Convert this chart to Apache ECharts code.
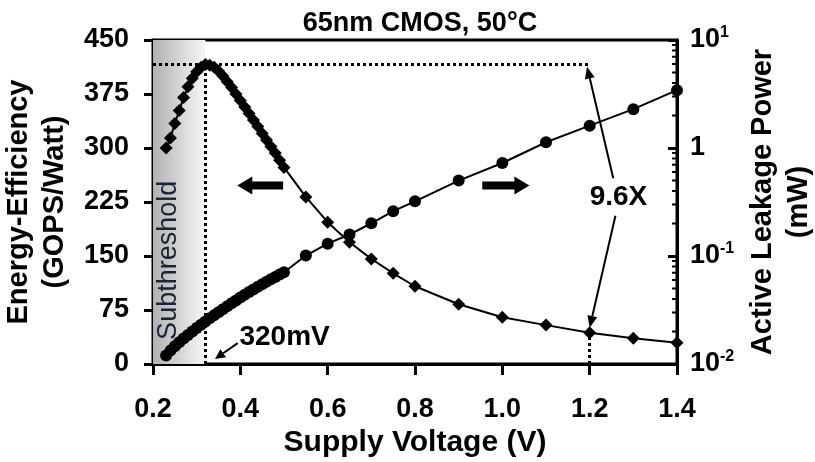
<!DOCTYPE html>
<html>
<head>
<meta charset="utf-8">
<script src="https://cdn.jsdelivr.net/npm/echarts@6/dist/echarts.min.js"></script>
<style>
  html, body { margin: 0; padding: 0; background: #fff; }
  #chart { width: 815px; height: 462px; }
</style>
</head>
<body>
<div id="chart"></div>
<script>
// Supply voltage sweep (V)
const voltage = [
  0.23, 0.24, 0.25, 0.26, 0.27, 0.28, 0.29, 0.30, 0.31, 0.32,
  0.33, 0.34, 0.35, 0.36, 0.37, 0.38, 0.39, 0.40, 0.41, 0.42,
  0.43, 0.44, 0.45, 0.46, 0.47, 0.48, 0.49, 0.50,
  0.55, 0.60, 0.65, 0.70, 0.75, 0.80, 0.90, 1.00, 1.10, 1.20, 1.30, 1.40
];
// Energy-efficiency (GOPS/Watt), left axis
const efficiency = [
  300, 314, 334, 352, 370, 385, 397, 406, 412, 416,
  415, 412, 407, 400, 392, 384, 375, 366, 357, 348,
  339, 330, 320, 311, 302, 293, 283, 273,
  232, 197, 169, 146, 126, 108, 83, 65, 54, 43.3, 35.7, 29.6
];
// Active leakage power (mW), right log axis
const leakage = [
  0.0120, 0.0133, 0.0146, 0.0159, 0.0172, 0.0186, 0.0200, 0.0215, 0.0231, 0.0248,
  0.0265, 0.0283, 0.0302, 0.0322, 0.0343, 0.0365, 0.0388, 0.0412, 0.0437, 0.0463,
  0.0490, 0.0518, 0.0547, 0.0577, 0.0608, 0.0640, 0.0673, 0.0707,
  0.101, 0.130, 0.158, 0.201, 0.260, 0.321, 0.499, 0.726, 1.13, 1.61, 2.29, 3.43
];
// Axis ticks
const xTicks = [0.2, 0.4, 0.6, 0.8, 1.0, 1.2, 1.4];
const leftTicks = [0, 75, 150, 225, 300, 375, 450];
const rightTicks = [0.01, 0.1, 1, 10];
const rightMinorTicks = [
  0.02, 0.03, 0.04, 0.05, 0.06, 0.07, 0.08, 0.09,
  0.2, 0.3, 0.4, 0.5, 0.6, 0.7, 0.8, 0.9,
  2, 3, 4, 5, 6, 7, 8, 9
];
// Annotated operating points
const peakVoltage = 0.32;
const compareVoltage = 1.2;

const FONT = '"Liberation Sans", Arial, sans-serif';
const xMin = xTicks[0], xMax = xTicks[xTicks.length - 1];
const peakEff = Math.max.apply(null, efficiency);
const effAtCompare = efficiency[voltage.indexOf(compareVoltage)];

const effData = voltage.map((v, i) => [v, efficiency[i]]);
const leakData = voltage.map((v, i) => [v, leakage[i]]);

function supText(v) {
  if (v === 1) return '{b|1}';
  const e = Math.round(Math.log10(v));
  return '{b|10}{s|' + e + '}';
}

const chart = echarts.init(document.getElementById('chart'), null, { renderer: 'canvas' });

const option = {
  animation: false,
  backgroundColor: '#fff',
  title: {
    text: '65nm CMOS, 50°C',
    left: 415, top: 5, textAlign: 'center',
    textStyle: { fontFamily: FONT, fontWeight: 'bold', fontSize: 27, color: '#000' }
  },
  grid: {
    left: 153, right: 138, top: 40, bottom: 98,
    containLabel: false, outerBoundsMode: 'none',
    show: true, borderColor: '#000', borderWidth: 3, backgroundColor: 'transparent'
  },
  xAxis: {
    type: 'value', min: xMin, max: xMax, interval: 0.2,
    name: 'Supply Voltage (V)', nameLocation: 'middle', nameGap: 62,
    nameTextStyle: { fontFamily: FONT, fontWeight: 'bold', fontSize: 30, color: '#000' },
    axisLine: { show: true, lineStyle: { color: '#000', width: 3 } },
    axisTick: { show: true, inside: false, length: 11, lineStyle: { color: '#000', width: 3 } },
    axisLabel: {
      margin: 32, fontFamily: FONT, fontWeight: 'bold', fontSize: 27, color: '#000',
      formatter: v => v.toFixed(1)
    },
    splitLine: { show: false }
  },
  yAxis: [
    {
      type: 'value', min: 0, max: 450, interval: 75, position: 'left',
      name: 'Energy-Efficiency\n(GOPS/Watt)', nameLocation: 'middle', nameGap: 75, nameRotate: 90,
      nameTextStyle: { fontFamily: FONT, fontWeight: 'bold', fontSize: 29, color: '#000', lineHeight: 36 },
      axisLine: { show: true, lineStyle: { color: '#000', width: 3 } },
      axisTick: { show: true, inside: false, length: 9, lineStyle: { color: '#000', width: 3 } },
      axisLabel: { margin: 24, fontFamily: FONT, fontWeight: 'bold', fontSize: 27, color: '#000' },
      splitLine: { show: false }
    },
    {
      type: 'log', logBase: 10, min: rightTicks[0], max: rightTicks[rightTicks.length - 1], position: 'right',
      name: 'Active Leakage Power\n(mW)', nameLocation: 'middle', nameGap: 65, nameRotate: 90,
      nameTextStyle: { fontFamily: FONT, fontWeight: 'bold', fontSize: 29, color: '#000', lineHeight: 36 },
      axisLine: { show: true, lineStyle: { color: '#000', width: 3 } },
      axisTick: { show: true, inside: true, length: 9, lineStyle: { color: '#000', width: 3 } },
      axisLabel: {
        margin: 13, fontFamily: FONT, color: '#000',
        formatter: supText,
        rich: {
          b: { fontFamily: FONT, fontWeight: 'bold', fontSize: 27, color: '#000', lineHeight: 30 },
          s: { fontFamily: FONT, fontWeight: 'bold', fontSize: 16, color: '#000', lineHeight: 30, verticalAlign: 'top', padding: [0, 0, 12, 0] }
        }
      },
      splitLine: { show: false }
    }
  ],
  series: [
    {
      name: 'Energy-Efficiency', type: 'line', yAxisIndex: 0, data: effData,
      symbol: 'diamond', symbolSize: 13, showAllSymbol: true,
      itemStyle: { color: '#000' }, lineStyle: { color: '#000', width: 2 },
      z: 3,
      markArea: {
        silent: true,
        itemStyle: {
          color: {
            type: 'linear', x: 0, y: 0, x2: 1, y2: 0,
            colorStops: [{ offset: 0, color: '#b2b2b2' }, { offset: 1, color: '#f7f7f7' }]
          }
        },
        data: [[{ xAxis: xMin }, { xAxis: peakVoltage }]]
      },
      markLine: {
        silent: true, symbol: ['none', 'none'], label: { show: false },
        lineStyle: { color: '#000', width: 3, type: [3, 3] },
        data: [
          [{ coord: [xMin, peakEff] }, { coord: [compareVoltage, peakEff] }],
          [{ coord: [peakVoltage, 0] }, { coord: [peakVoltage, peakEff] }],
          [{ coord: [compareVoltage, 0] }, { coord: [compareVoltage, effAtCompare] }]
        ]
      }
    },
    {
      name: 'Active Leakage Power', type: 'line', yAxisIndex: 1, data: leakData,
      symbol: 'circle', symbolSize: 12, showAllSymbol: true,
      itemStyle: { color: '#000' }, lineStyle: { color: '#000', width: 2 },
      z: 3
    },
    {
      // minor log ticks on the right axis, pointing into the plot
      name: 'minorTicks', type: 'custom', yAxisIndex: 1, silent: true,
      data: rightMinorTicks.map(v => [xMax, v]),
      renderItem: function (params, api) {
        const p = api.coord([api.value(0), api.value(1)]);
        return {
          type: 'line',
          shape: { x1: p[0] - 5, y1: p[1], x2: p[0], y2: p[1] },
          style: { stroke: '#000', lineWidth: 2 }
        };
      },
      z: 5
    }
  ]
};

chart.setOption(option);

// Annotations placed from data coordinates
function px(x, y) { return chart.convertToPixel({ xAxisIndex: 0, yAxisIndex: 0 }, [x, y]); }

function blockArrow(tailX, headX, y, halfShaft, headLen, halfHead) {
  const t = px(tailX, y), h = px(headX, y);
  const dir = h[0] > t[0] ? 1 : -1;
  const baseX = h[0] - dir * headLen;
  return {
    type: 'polygon', silent: true, z: 10,
    shape: { points: [
      [t[0], t[1] - halfShaft], [baseX, t[1] - halfShaft], [baseX, t[1] - halfHead],
      [h[0], t[1]], [baseX, t[1] + halfHead], [baseX, t[1] + halfShaft], [t[0], t[1] + halfShaft]
    ] },
    style: { fill: '#000' }
  };
}

function lineArrow(from, to, headLen, headHalf, width) {
  const a = px(from[0], from[1]), b = px(to[0], to[1]);
  const dx = b[0] - a[0], dy = b[1] - a[1];
  const len = Math.sqrt(dx * dx + dy * dy);
  const ux = dx / len, uy = dy / len;
  const bx = b[0] - ux * headLen, by = b[1] - uy * headLen;
  return [
    { type: 'line', silent: true, z: 10, shape: { x1: a[0], y1: a[1], x2: bx, y2: by },
      style: { stroke: '#000', lineWidth: width } },
    { type: 'polygon', silent: true, z: 10,
      shape: { points: [[b[0], b[1]], [bx - uy * headHalf, by + ux * headHalf], [bx + uy * headHalf, by - ux * headHalf]] },
      style: { fill: '#000' } }
  ];
}

const subPos = px(0.236, 144);
const peakLabel = px(0.398, 37);
const ratioLabel = px(1.266, 232);

const graphics = [
  {
    type: 'text', silent: true, z: 10,
    x: subPos[0], y: subPos[1], rotation: Math.PI / 2,
    style: { text: 'Subthreshold', fill: '#1c2333', font: '27px ' + FONT, align: 'center', verticalAlign: 'middle' }
  },
  {
    type: 'text', silent: true, z: 10,
    x: peakLabel[0], y: peakLabel[1],
    style: { text: '320mV', fill: '#000', font: 'bold 28px ' + FONT, align: 'left', verticalAlign: 'middle' }
  },
  {
    type: 'text', silent: true, z: 10,
    x: ratioLabel[0], y: ratioLabel[1],
    style: { text: '9.6X', fill: '#000', font: 'bold 28px ' + FONT, align: 'center', verticalAlign: 'middle' }
  },
  blockArrow(0.498, 0.393, 248, 4, 15, 9),
  blockArrow(0.954, 1.062, 248, 4, 15, 9)
]
  .concat(lineArrow([0.394, 29], [0.342, 7], 10, 5, 2))
  .concat(lineArrow([1.254, 258], [compareVoltage - 0.006, peakEff - 3], 12, 5, 2))
  .concat(lineArrow([1.259, 206], [compareVoltage, effAtCompare + 7], 12, 5, 2));

chart.setOption({ graphic: graphics });
</script>
</body>
</html>
